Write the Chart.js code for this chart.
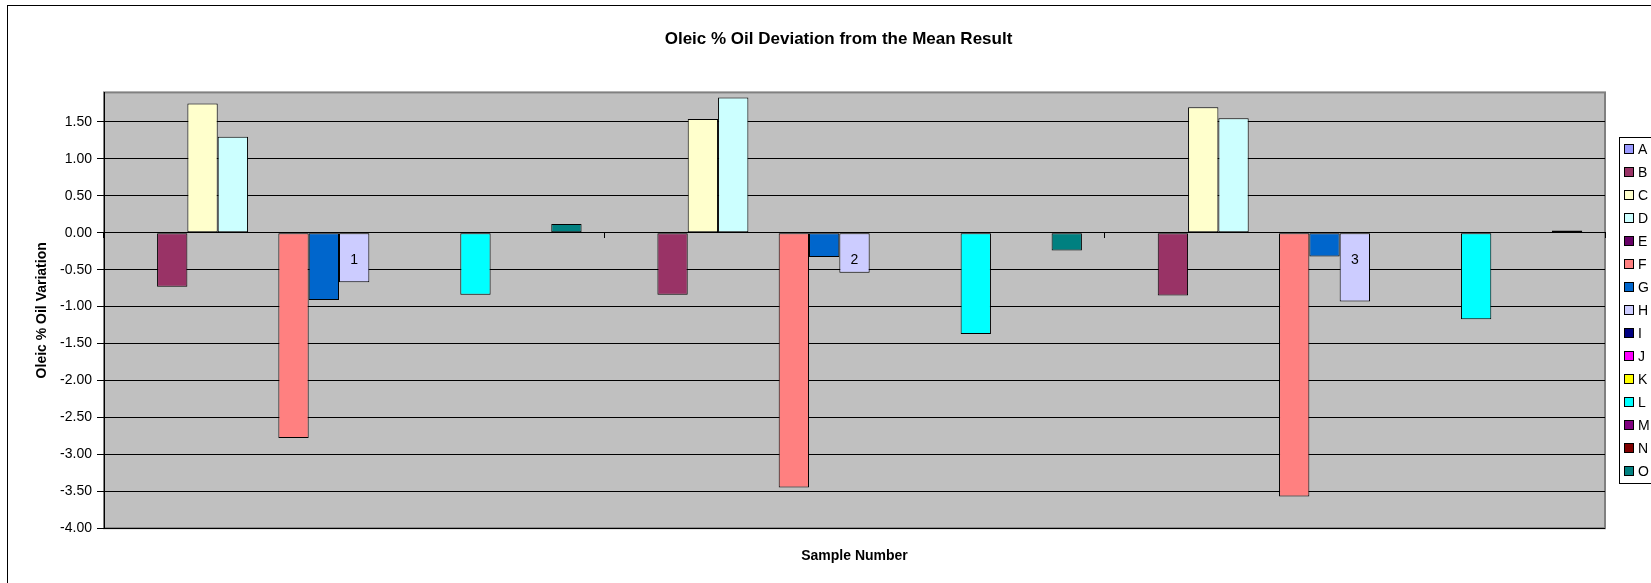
<!DOCTYPE html>
<html>
<head>
<meta charset="utf-8">
<title>Oleic % Oil Deviation from the Mean Result</title>
<script src="https://cdn.jsdelivr.net/npm/chart.js@4.4.1/dist/chart.umd.min.js"></script>
<style>
    html, body { margin: 0; padding: 0; overflow: hidden; background: #fff; }
    #marco { position: relative; width: 1677px; height: 583px; }
</style>
</head>
<body>
<div id="marco"><canvas id="oleicoChart"></canvas></div>
<script>
// muestras (eje x)
const muestras = ["1", "2", "3"];

// desviación por serie, null = sin dato
const serieA = [null, null, null];
const serieB = [-0.73, -0.84, -0.85];
const serieC = [1.75, 1.54, 1.70];
const serieD = [1.30, 1.83, 1.55];
const serieE = [null, null, null];
const serieF = [-2.78, -3.45, -3.57];
const serieG = [-0.91, -0.33, -0.32];
const serieH = [-0.67, -0.54, -0.93];
const serieI = [null, null, null];
const serieJ = [null, null, null];
const serieK = [null, null, null];
const serieL = [-0.84, -1.37, -1.17];
const serieM = [null, null, null];
const serieN = [null, null, null];
const serieO = [0.12, -0.24, 0.03];

const nombres = ["A", "B", "C", "D", "E", "F", "G", "H", "I", "J", "K", "L", "M", "N", "O"];
const valores = [serieA, serieB, serieC, serieD, serieE, serieF, serieG, serieH,
                 serieI, serieJ, serieK, serieL, serieM, serieN, serieO];
const colores = ["#9999FF", "#993366", "#FFFFCC", "#CCFFFF", "#660066", "#FF8080", "#0066CC", "#CCCCFF",
                 "#000080", "#FF00FF", "#FFFF00", "#00FFFF", "#800080", "#800000", "#008080"];

// escala y
const yMin = -4;
const yMax = 1.9;
const yPaso = 0.5;

Chart.defaults.font.family = "'Liberation Sans', Arial, sans-serif";
Chart.defaults.color = "#000";

// fondo gris del área de trazado y marco exterior
const fondoPlot = {
    id: "fondoPlot",
    beforeDraw(chart) {
        const ctx = chart.ctx;
        const a = chart.chartArea;
        ctx.save();
        ctx.strokeStyle = "#000";
        ctx.lineWidth = 1;
        ctx.strokeRect(7.5, 5.5, chart.width + 50, chart.height + 50);
        ctx.fillStyle = "#C0C0C0";
        ctx.fillRect(a.left, a.top, a.right - a.left, a.bottom - a.top);
        ctx.strokeStyle = "#808080";
        ctx.lineWidth = 2;
        ctx.strokeRect(a.left, a.top, a.right - a.left, a.bottom - a.top);
        ctx.restore();
    }
};

// leyenda estilo Excel a la derecha
const leyenda = {
    id: "leyenda",
    afterDraw(chart) {
        const ctx = chart.ctx;
        const sets = chart.data.datasets;
        const x = chart.chartArea.right + 14;
        const y = 137;
        const paso = 23;
        ctx.save();
        ctx.strokeStyle = "#000";
        ctx.lineWidth = 1;
        ctx.strokeRect(x + 0.5, y + 0.5, 70, paso * sets.length + 1);
        ctx.font = "14px 'Liberation Sans', Arial, sans-serif";
        ctx.textBaseline = "middle";
        ctx.textAlign = "left";
        sets.forEach((ds, i) => {
            const cy = Math.round(y + 12 + i * paso);
            ctx.fillStyle = ds.backgroundColor;
            ctx.fillRect(x + 5, cy - 5, 10, 10);
            ctx.strokeStyle = "#000";
            ctx.strokeRect(x + 5.5, cy - 4.5, 9, 9);
            ctx.fillStyle = "#000";
            ctx.fillText(ds.label, x + 19, cy + 1);
        });
        ctx.restore();
    }
};

const datasets = nombres.map((n, i) => ({
    label: n,
    data: valores[i],
    backgroundColor: colores[i],
    borderColor: "#000",
    borderWidth: 1,
    borderSkipped: false,
    categoryPercentage: 15 / 16.5,
    barPercentage: 1
}));

new Chart(document.getElementById("oleicoChart"), {
    type: "bar",
    data: {
        labels: muestras,
        datasets: datasets
    },
    options: {
        responsive: true,
        maintainAspectRatio: false,
        animation: false,
        layout: { padding: 0 },
        scales: {
            x: {
                position: { y: 0 },
                grid: { drawOnChartArea: false, drawTicks: true, tickLength: 5, color: "#000", offset: true },
                border: { color: "#000", z: 1 },
                ticks: { color: "#000", font: { size: 14 }, padding: 14, z: 1 }
            },
            y: {
                min: yMin,
                max: yMax,
                afterBuildTicks: s => {
                    s.ticks = s.ticks.filter(t => Math.abs(t.value / yPaso - Math.round(t.value / yPaso)) < 1e-6);
                },
                afterFit: s => { s.width = 104; },
                ticks: {
                    stepSize: yPaso,
                    color: "#000",
                    font: { size: 14 },
                    padding: 5,
                    callback: v => Number(v).toFixed(2)
                },
                grid: { color: "#000", tickLength: 7, lineWidth: 1 },
                border: { color: "#000" },
                title: {
                    display: true,
                    text: "Oleic % Oil Variation",
                    font: { size: 14, weight: "bold" },
                    color: "#000",
                    padding: { top: 34, bottom: 0 }
                }
            },
            // eje vacío: reserva el hueco de la leyenda
            y2: {
                position: "right",
                display: true,
                ticks: { display: false },
                grid: { display: false },
                border: { display: false },
                afterFit: s => { s.width = 72; }
            }
        },
        plugins: {
            legend: { display: false },
            tooltip: { enabled: false },
            title: {
                display: true,
                text: "Oleic % Oil Deviation from the Mean Result",
                font: { size: 17, weight: "bold" },
                color: "#000",
                padding: { top: 29, bottom: 43 }
            },
            subtitle: {
                display: true,
                position: "bottom",
                fullSize: false,
                text: "Sample Number",
                font: { size: 14, weight: "bold" },
                color: "#000",
                padding: { top: 20, bottom: 18 }
            }
        }
    },
    plugins: [fondoPlot, leyenda]
});
</script>
</body>
</html>
